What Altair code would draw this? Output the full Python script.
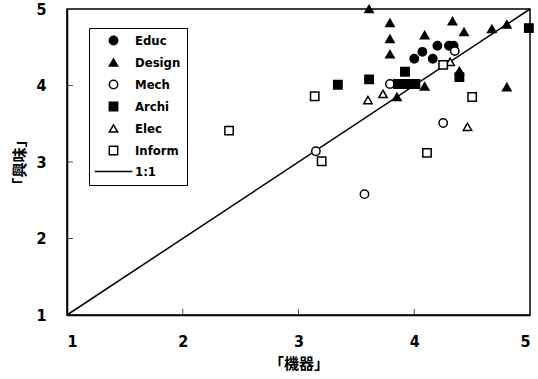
import altair as alt
import pandas as pd

# Mean ratings per department: x = 「機器」, y = 「興味」
educ_x = [4.00, 4.07, 4.16, 4.20, 4.30, 4.34]
educ_y = [4.35, 4.44, 4.35, 4.52, 4.52, 4.52]

design_x = [3.61, 3.79, 3.79, 3.79, 4.09, 4.33, 4.43, 4.67, 4.80, 4.09, 3.85, 4.39, 4.80]
design_y = [5.00, 4.82, 4.61, 4.41, 4.66, 4.84, 4.70, 4.74, 4.80, 3.99, 3.85, 4.19, 3.98]

mech_x = [4.35, 3.15, 3.57, 4.25, 3.79]
mech_y = [4.45, 3.14, 2.58, 3.51, 4.02]

archi_x = [3.34, 3.61, 3.92, 3.86, 3.94, 4.01, 4.39, 4.99]
archi_y = [4.01, 4.08, 4.18, 4.02, 4.02, 4.02, 4.11, 4.75]

elec_x = [4.31, 3.60, 3.73, 4.46]
elec_y = [4.31, 3.81, 3.89, 3.46]

inform_x = [3.14, 4.25, 4.50, 3.20, 2.40, 4.11]
inform_y = [3.86, 4.27, 3.85, 3.01, 3.41, 3.12]

# 1:1 reference line
line_x = [1, 5]
line_y = [1, 5]

tick_values = [1, 2, 3, 4, 5]
inner_ticks = [2, 3, 4]

groups = ["Educ", "Design", "Mech", "Archi", "Elec", "Inform", "1:1"]
shapes = ["circle", "triangle-up", "circle", "square", "triangle-up", "square", "M-4.5,0H4.5"]
fills = ["black", "black", "white", "black", "white", "white", "white"]
strokes = ["black"] * len(groups)

series = {
    "Educ": (educ_x, educ_y),
    "Design": (design_x, design_y),
    "Mech": (mech_x, mech_y),
    "Archi": (archi_x, archi_y),
    "Elec": (elec_x, elec_y),
    "Inform": (inform_x, inform_y),
}
rows = []
for name, (xs, ys) in series.items():
    for a, b in zip(xs, ys):
        rows.append({"group": name, "x": a, "y": b})
points = pd.DataFrame(rows)
line_df = pd.DataFrame({"x": line_x, "y": line_y})
ticks_df = pd.DataFrame({"v": inner_ticks, "base": [1] * len(inner_ticks)})

NUM_FONT = "Liberation Sans Narrow, DejaVu Sans Condensed, Arial, sans-serif"
CJK_FONT = "Noto Sans CJK JP"

xscale = alt.Scale(domain=[1, 5], nice=False, zero=False)
yscale = alt.Scale(domain=[1, 5], nice=False, zero=False)

xaxis = alt.Axis(values=tick_values, format="d", ticks=False, grid=False, labelPadding=18,
                 title="「機器」", titlePadding=7)
yaxis = alt.Axis(values=tick_values, format="d", ticks=False, grid=False, labelPadding=21,
                 title="「興味」", titlePadding=8)

legend = alt.Legend(
    orient="none", legendX=22, legendY=19, title=None,
    padding=6, strokeColor="black", fillColor="white",
    labelFont=NUM_FONT, labelFontSize=13, labelFontWeight="bold", labelColor="black",
    labelOffset=15, symbolOffset=12, rowPadding=7,
    symbolStrokeWidth=1.5, symbolSize=70,
)

shape_enc = alt.Shape("group:N", scale=alt.Scale(domain=groups, range=shapes), legend=legend)
fill_enc = alt.Fill("group:N", scale=alt.Scale(domain=groups, range=fills), legend=legend)
stroke_enc = alt.Stroke("group:N", scale=alt.Scale(domain=groups, range=strokes), legend=legend)

pts = alt.Chart(points).mark_point(size=70, strokeWidth=1.5, opacity=1, clip=False).encode(
    x=alt.X("x:Q", scale=xscale, axis=xaxis),
    y=alt.Y("y:Q", scale=yscale, axis=yaxis),
    shape=shape_enc,
    fill=fill_enc,
    stroke=stroke_enc,
)

diag = alt.Chart(line_df).mark_line(color="black", strokeWidth=1.5).encode(
    x=alt.X("x:Q", scale=xscale),
    y=alt.Y("y:Q", scale=yscale),
)

# inward-pointing ticks on the bottom and left frame edges
xt = alt.Chart(ticks_df).mark_tick(orient="vertical", color="black", size=6, thickness=1, yOffset=-3).encode(
    x=alt.X("v:Q", scale=xscale),
    y=alt.Y("base:Q", scale=yscale),
)
yt = alt.Chart(ticks_df).mark_tick(orient="horizontal", color="black", size=6, thickness=1, xOffset=3).encode(
    y=alt.Y("v:Q", scale=yscale),
    x=alt.X("base:Q", scale=xscale),
)

chart = alt.layer(diag, xt, yt, pts).properties(
    width=463, height=306,
    background="white",
    padding={"left": 67, "top": 9, "right": 8, "bottom": 64},
    autosize=alt.AutoSizeParams(type="none"),
).configure_view(stroke="black", strokeWidth=1.5).configure_axis(
    domainColor="black", domainWidth=1.5,
    labelFont=NUM_FONT, labelFontSize=16, labelFontWeight="bold", labelColor="black",
    titleFont=CJK_FONT, titleFontSize=15, titleFontWeight="bold", titleColor="black",
)

chart.save("out.html", embed_options={"renderer": "svg", "actions": False})
